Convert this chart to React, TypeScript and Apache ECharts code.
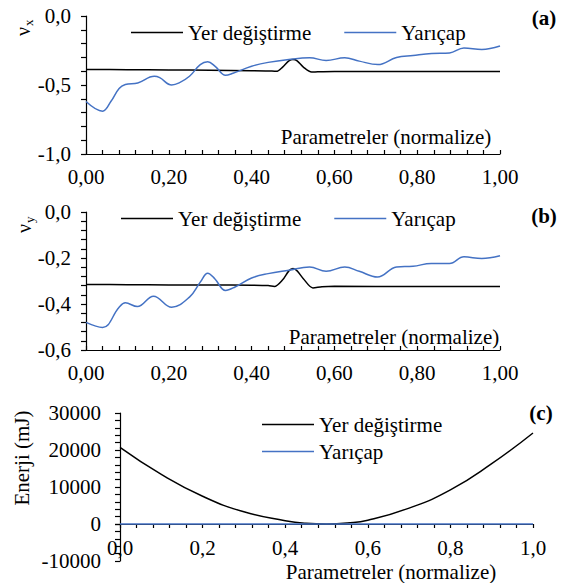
import React, { useEffect, useRef } from "react";
import * as echarts from "echarts";

// ---- Panel (a): ν_x ----
const vxDispX = [0, 0.1, 0.2, 0.3, 0.4, 0.44, 0.46, 0.475, 0.49, 0.5, 0.51, 0.525, 0.545, 0.56, 0.6, 0.8, 1.0];
const vxDisp = [-0.388, -0.389, -0.391, -0.393, -0.396, -0.398, -0.401, -0.37, -0.325, -0.316, -0.325, -0.37, -0.406, -0.404, -0.402, -0.403, -0.403];
const vxRadX = [0, 0.04, 0.06, 0.08, 0.095, 0.125, 0.165, 0.178, 0.207, 0.225, 0.25, 0.276, 0.294, 0.312, 0.337, 0.355, 0.4, 0.44, 0.49, 0.54, 0.58, 0.625, 0.66, 0.705, 0.75, 0.79, 0.835, 0.878, 0.913, 0.956, 1.0];
const vxRad = [-0.62, -0.69, -0.62, -0.525, -0.497, -0.485, -0.437, -0.447, -0.5, -0.485, -0.437, -0.352, -0.332, -0.365, -0.43, -0.415, -0.364, -0.336, -0.315, -0.303, -0.322, -0.303, -0.327, -0.352, -0.3, -0.286, -0.272, -0.268, -0.232, -0.243, -0.218];

// ---- Panel (b): ν_y ----
const vyDispX = [0, 0.1, 0.2, 0.3, 0.4, 0.44, 0.455, 0.475, 0.49, 0.5, 0.51, 0.525, 0.548, 0.57, 0.6, 0.8, 1.0];
const vyDisp = [-0.315, -0.316, -0.317, -0.317, -0.318, -0.32, -0.324, -0.295, -0.256, -0.246, -0.256, -0.29, -0.33, -0.325, -0.323, -0.324, -0.324];
const vyRadX = [0, 0.04, 0.08, 0.095, 0.124, 0.163, 0.207, 0.25, 0.276, 0.294, 0.311, 0.337, 0.36, 0.4, 0.44, 0.49, 0.54, 0.58, 0.625, 0.66, 0.704, 0.75, 0.79, 0.834, 0.878, 0.913, 0.956, 1.0];
const vyRad = [-0.48, -0.502, -0.414, -0.395, -0.411, -0.366, -0.414, -0.37, -0.305, -0.266, -0.29, -0.341, -0.326, -0.287, -0.268, -0.253, -0.239, -0.258, -0.239, -0.258, -0.283, -0.239, -0.236, -0.224, -0.224, -0.195, -0.202, -0.19];

// ---- Panel (c): energy (mJ) ----
const energyX = [0, 0.1, 0.2, 0.3, 0.4, 0.45, 0.5, 0.55, 0.6, 0.7, 0.8, 0.9, 1.0];
const energyDisp = [20700, 13400, 7500, 3300, 900, 200, 0, 250, 1000, 4300, 9200, 16300, 24600];
const energyRad = [0, 0, 0, 0, 0, 0, 0, 0, 0, 0, 0, 0, 0];

const SERIES_NAMES = ["Yer değiştirme", "Yarıçap"];
const BLACK = "#000000";
const BLUE = "#4472C4";
const FONT = "Liberation Serif, serif";
const FS = 21;

const pairs = (xs: number[], ys: number[]) => xs.map((x, i) => [x, ys[i]]);
const comma = (d: number) => (v: number) => v.toFixed(d).replace(".", ",");

const labelStyle = { fontSize: FS, fontFamily: FONT, color: BLACK };
const axisLineStyle = { color: BLACK, width: 1.2 };

function xAxisFor(gridIndex: number, decimals: number, inside: boolean, margin: number) {
  return {
    type: "value",
    gridIndex,
    min: 0,
    max: 1,
    interval: 0.2,
    axisLine: { onZero: false, lineStyle: axisLineStyle },
    axisTick: { inside, length: 4, lineStyle: axisLineStyle },
    minorTick: { show: true, splitNumber: 5, length: 4, lineStyle: axisLineStyle },
    splitLine: { show: false },
    minorSplitLine: { show: false },
    axisLabel: { ...labelStyle, margin, formatter: comma(decimals) },
  };
}

function yAxisFor(
  gridIndex: number,
  min: number,
  max: number,
  interval: number,
  fmt: (v: number) => string,
  margin: number,
  showMaxLabel = true
) {
  return {
    type: "value",
    gridIndex,
    min,
    max,
    interval,
    axisLine: { show: true, onZero: false, lineStyle: axisLineStyle },
    axisTick: { show: true, inside: false, length: 5, lineStyle: axisLineStyle },
    minorTick: { show: true, splitNumber: 5, length: 5, lineStyle: axisLineStyle },
    splitLine: { show: false },
    minorSplitLine: { show: false },
    axisLabel: { ...labelStyle, margin, formatter: fmt, showMaxLabel },
  };
}

function lineSeries(name: string, color: string, axis: number, data: number[][], smooth: number | boolean) {
  return {
    name,
    type: "line",
    xAxisIndex: axis,
    yAxisIndex: axis,
    data,
    smooth,
    symbol: "none",
    clip: false,
    lineStyle: { color, width: 1.5 },
    itemStyle: { color },
    z: name === SERIES_NAMES[1] ? 3 : 2,
  };
}

function legendAt(left: number, top: number, orient: "horizontal" | "vertical", itemGap: number) {
  return {
    data: SERIES_NAMES,
    left,
    top,
    orient,
    itemGap,
    icon: "rect",
    itemWidth: 52,
    itemHeight: 1.5,
    padding: 0,
    selectedMode: false,
    textStyle: { ...labelStyle },
  };
}

function text(x: number, y: number, t: string, opts: Record<string, unknown> = {}) {
  return {
    type: "text",
    x,
    y,
    style: {
      text: t,
      fontSize: FS,
      fontFamily: FONT,
      fill: BLACK,
      align: "center",
      verticalAlign: "middle",
      ...opts,
    },
  };
}

// ν with a subscript, turned to read upwards
function nuLabel(x: number, y: number, sub: string) {
  return {
    type: "group",
    x,
    y,
    rotation: Math.PI / 2,
    children: [
      { type: "text", x: 0, y: 0, style: { text: "ν", fontSize: 20, fontFamily: FONT, fill: BLACK, align: "left", verticalAlign: "middle" } },
      { type: "text", x: 10, y: 5, style: { text: sub, fontSize: 13, fontFamily: FONT, fill: BLACK, align: "left", verticalAlign: "middle" } },
    ],
  };
}

export default function App() {
  const ref = useRef<HTMLDivElement>(null);

  useEffect(() => {
    if (!ref.current) return;
    const chart = echarts.init(ref.current, null, { renderer: "svg" });
    chart.setOption({
      animation: false,
      backgroundColor: "#ffffff",
      textStyle: { fontFamily: FONT, fontSize: FS, color: BLACK },
      grid: [
        { left: 86, top: 16, width: 414, height: 138, outerBoundsMode: "none" },
        { left: 86, top: 212, width: 414, height: 138, outerBoundsMode: "none" },
        // energy panel: positive part (0 … 30000) carries the x axis at zero
        { left: 120, top: 413, width: 413, height: 111, outerBoundsMode: "none" },
        // energy panel: negative part of the y axis (-10000 … 0)
        { left: 120, top: 524, width: 413, height: 37, outerBoundsMode: "none" },
      ],
      xAxis: [
        xAxisFor(0, 2, true, 12),
        xAxisFor(1, 2, true, 12),
        xAxisFor(2, 1, false, 13),
        { type: "value", gridIndex: 3, min: 0, max: 1, show: false },
      ],
      yAxis: [
        yAxisFor(0, -1, 0, 0.5, comma(1), 15),
        yAxisFor(1, -0.6, 0, 0.2, comma(1), 15),
        yAxisFor(2, 0, 30000, 10000, (v: number) => String(v), 19),
        yAxisFor(3, -10000, 0, 10000, (v: number) => String(v), 19, false),
      ],
      legend: [
        legendAt(131, 22, "horizontal", 33),
        legendAt(121, 208, "horizontal", 33),
        legendAt(262, 414, "vertical", 6),
      ],
      series: [
        lineSeries(SERIES_NAMES[0], BLACK, 0, pairs(vxDispX, vxDisp), 0.3),
        lineSeries(SERIES_NAMES[1], BLUE, 0, pairs(vxRadX, vxRad), 0.4),
        lineSeries(SERIES_NAMES[0], BLACK, 1, pairs(vyDispX, vyDisp), 0.3),
        lineSeries(SERIES_NAMES[1], BLUE, 1, pairs(vyRadX, vyRad), 0.4),
        lineSeries(SERIES_NAMES[0], BLACK, 2, pairs(energyX, energyDisp), true),
        lineSeries(SERIES_NAMES[1], BLUE, 2, pairs(energyX, energyRad), false),
      ],
      graphic: [
        text(544, 18, "(a)", { fontWeight: "bold" }),
        text(544, 216, "(b)", { fontWeight: "bold" }),
        text(541, 413, "(c)", { fontWeight: "bold" }),
        text(386, 137, "Parametreler (normalize)"),
        text(394, 337, "Parametreler (normalize)"),
        text(391, 572, "Parametreler (normalize)"),
        nuLabel(23, 36, "x"),
        nuLabel(24, 233, "y"),
        {
          type: "text",
          x: 22,
          y: 458,
          rotation: Math.PI / 2,
          style: { text: "Enerji (mJ)", fontSize: FS, fontFamily: FONT, fill: BLACK, align: "center", verticalAlign: "middle" },
        },
      ],
    });
    return () => chart.dispose();
  }, []);

  return (
    <div
      ref={ref}
      style={{ position: "fixed", left: 0, top: 0, width: 565, height: 583, background: "#fff" }}
    />
  );
}
